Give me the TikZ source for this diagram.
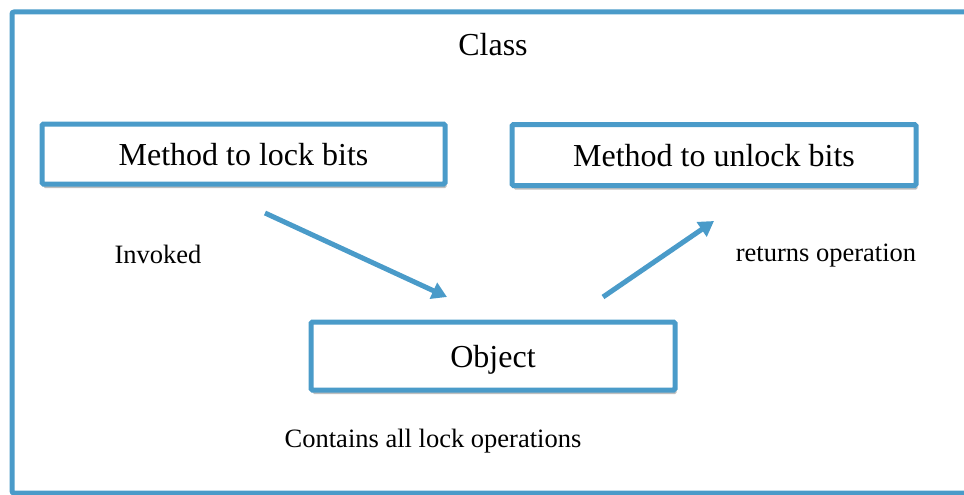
\documentclass[tikz,border=0pt]{standalone}
\usepackage{fontspec}
\setmainfont{Liberation Serif}
\usepackage{tikz}
\usetikzlibrary{positioning}
\usetikzlibrary{shadows}
\usetikzlibrary{arrows.meta}

\definecolor{frameblue}{RGB}{74,155,201}

\begin{document}
\begin{tikzpicture}[x=1pt, y=-1pt,
    box/.style={draw=frameblue, line width=5pt, fill=white, rounded corners=1.5pt,
      drop shadow={shadow xshift=1.5pt, shadow yshift=-4pt, opacity=0.5},
      inner sep=0pt, text depth=0pt, font=\fontsize{32}{36}\selectfont},
    label/.style={font=\fontsize{26.5}{30}\selectfont},
    flow/.style={draw=frameblue, line width=5pt,
      -{Triangle[length=15pt, width=17pt]}}]
  \useasboundingbox (0,0) rectangle (964,495);

  % Class frame
  \draw[frameblue, line width=5pt, rounded corners=2pt] (12,12) rectangle (990,493);
  \node (class) at (493,45) {\fontsize{32}{36}\selectfont Class};

  % Methods
  \node[box, minimum width=403pt, minimum height=60pt] (lock) at (243.5,154) {Method to lock bits};
  \node[box, minimum width=404pt, minimum height=61pt] (unlock) at (714,155) {Method to unlock bits};

  % Object
  \node[box, minimum width=364pt, minimum height=68pt] (object) at (493,356) {Object};
  \node[label] (contains) at (433,441) {Contains all lock operations};

  % Invoked
  \coordinate (inA) at (265,213);
  \coordinate (inB) at (447,297);
  \draw[flow] (inA) -- (inB);
  \node[label] (invoked) at (158,254) {Invoked};

  % Returns
  \coordinate (outA) at (603,297);
  \coordinate (outB) at (714,221);
  \draw[flow] (outA) -- (outB);
  \node[label] (returns) at (826,256) {returns operation};
\end{tikzpicture}
\end{document}
